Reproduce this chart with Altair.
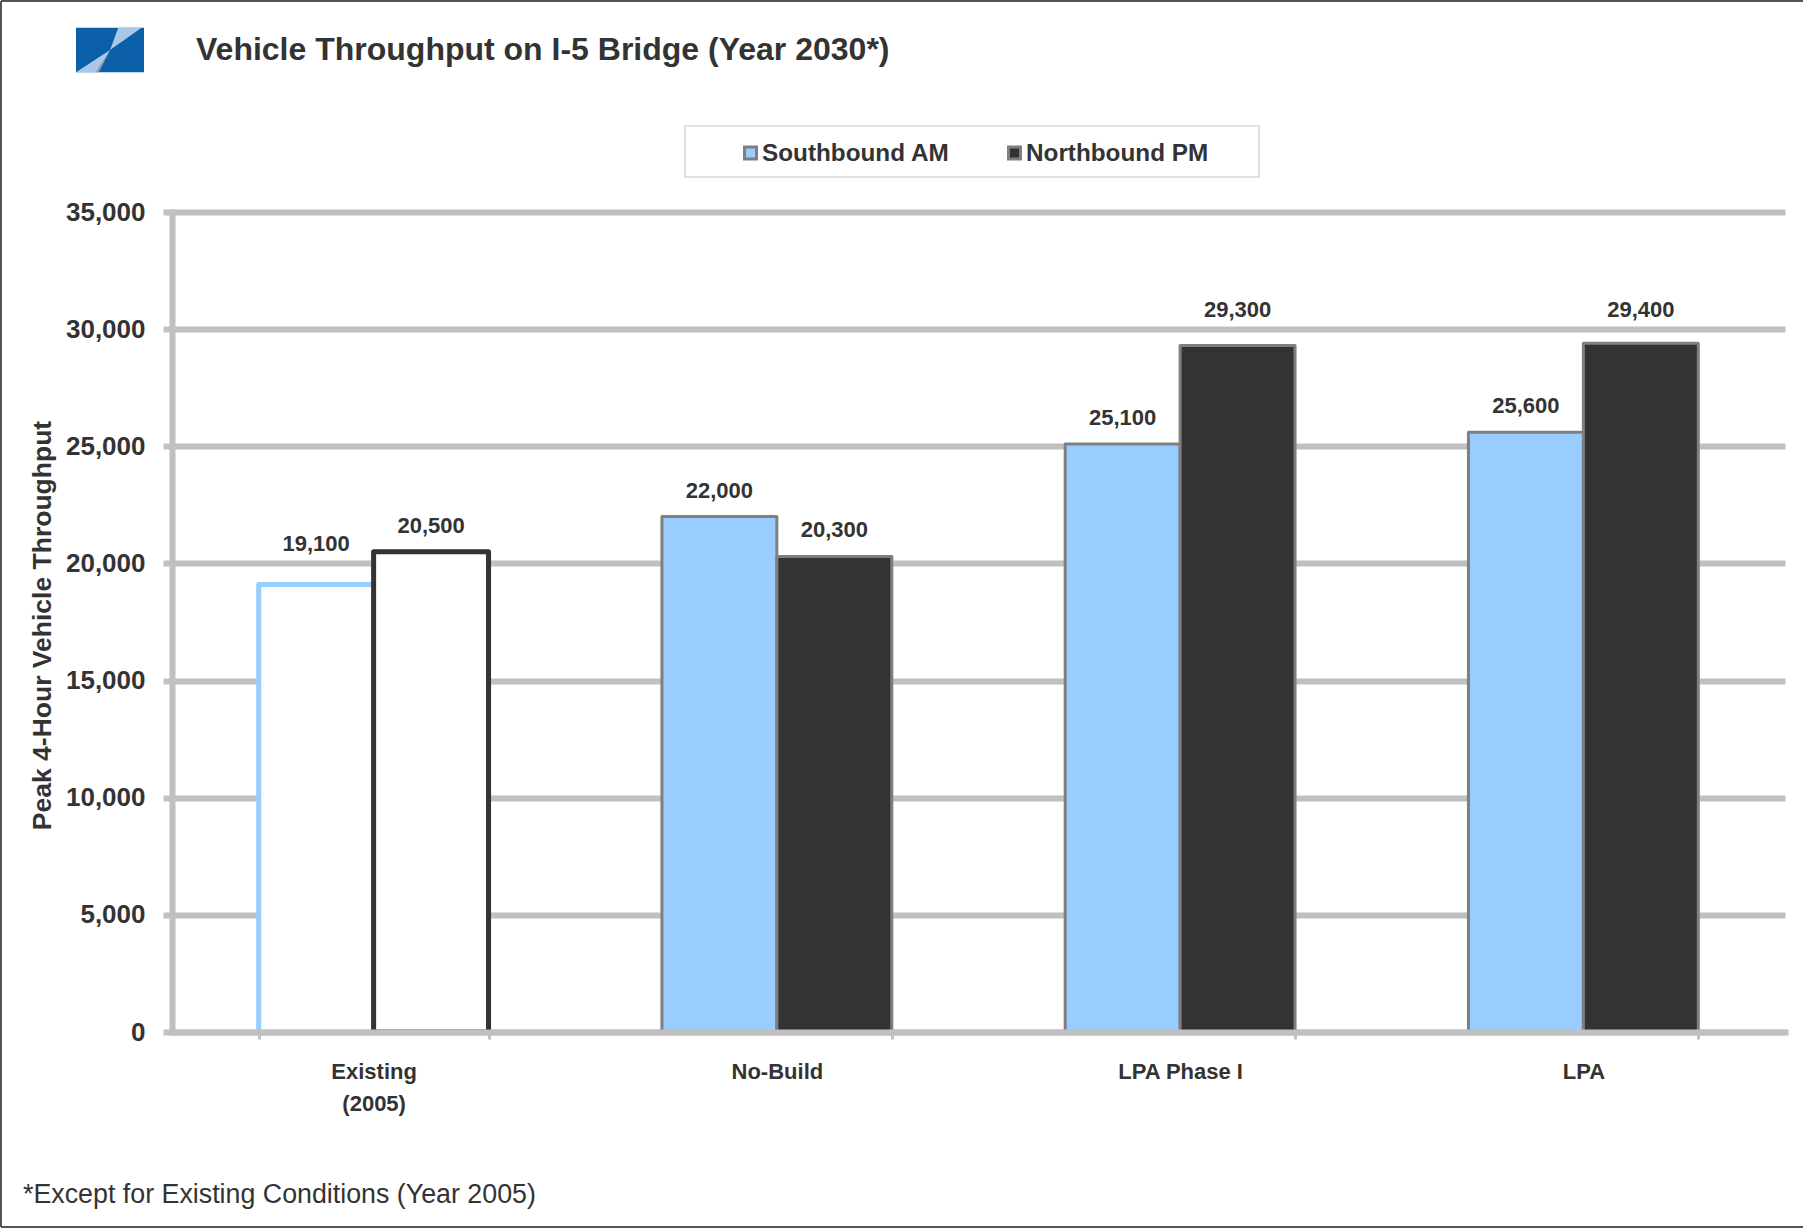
import altair as alt
import pandas as pd

# --- chart data -------------------------------------------------------------
scenarios = ["Existing (2005)", "No-Build", "LPA Phase I", "LPA"]
series_names = ["Southbound AM", "Northbound PM"]
southbound_am = [19100, 22000, 25100, 25600]
northbound_pm = [20500, 20300, 29300, 29400]
y_ticks = [0, 5000, 10000, 15000, 20000, 25000, 30000, 35000]

TITLE = "Vehicle Throughput on I-5 Bridge (Year 2030*)"
FOOTNOTE = "*Except for Existing Conditions (Year 2005)"
Y_TITLE = "Peak 4-Hour Vehicle Throughput"

# --- layout ------------------------------------------------------------------
W, H = 1613, 820            # plot area
PAD = {"left": 172, "top": 212, "right": 18, "bottom": 196}
Y_MAX = 35000
U = Y_MAX / H                # data units per pixel

FONT = "Liberation Sans, Arial, Helvetica, sans-serif"
INK = "#333333"
GRID = "#c0c0c0"
SB_BLUE = "#99ccff"
NB_DARK = "#333333"
EDGE = "#7f7f7f"
series_colors = [SB_BLUE, NB_DARK]

rows = []
for scen, sb, nb in zip(scenarios, southbound_am, northbound_pm):
    rows.append({"scenario": scen, "series": series_names[0], "value": sb})
    rows.append({"scenario": scen, "series": series_names[1], "value": nb})
df = pd.DataFrame(rows)
df["existing"] = df["scenario"] == scenarios[0]


def label_center(v):
    """Value-label centre above a bar, lifted clear of any gridline it would sit on."""
    c = v + 26 * U
    for g in y_ticks:
        if abs(c - g) < 14 * U:
            c = g + 19 * U
    return c


df["label_pos"] = df["value"].map(label_center)

x_axis = alt.Axis(
    title=None,
    labelExpr="split(replace(datum.label, ' (', '|('), '|')",
    labelFont=FONT, labelFontSize=22, labelFontWeight="bold", labelColor=INK,
    labelAngle=0, labelPadding=22, labelLineHeight=32, labelBaseline="top",
    domainColor=GRID, domainWidth=6, domainCap="square",
    tickColor=GRID, tickWidth=3, tickSize=7, tickBand="extent",
    zindex=1,
)
y_axis = alt.Axis(
    values=y_ticks, labelExpr="format(datum.value, ',')",
    title=Y_TITLE, titleFont=FONT, titleFontSize=26.5, titleFontWeight="bold",
    titleColor=INK, titleAngle=270, titleX=-122, titleY=413,
    titleAlign="center", titleBaseline="alphabetic",
    labelFont=FONT, labelFontSize=26, labelFontWeight="bold", labelColor=INK,
    labelPadding=18,
    domainColor=GRID, domainWidth=6, domainCap="square",
    gridColor=GRID, gridWidth=6,
    tickColor=GRID, tickWidth=6, tickSize=9,
    zindex=0,
)

x_enc = alt.X("scenario:N", sort=scenarios,
              scale=alt.Scale(paddingInner=0.43, paddingOuter=0.215), axis=x_axis)
xoff_enc = alt.XOffset("series:N", sort=series_names,
                       scale=alt.Scale(paddingInner=0, paddingOuter=0))
y_scale = alt.Scale(domain=[0, Y_MAX], nice=False)

series_scale = alt.Scale(domain=series_names, range=series_colors)

# Existing conditions are drawn as outlines, the forecasts as filled bars.
bars = alt.Chart(df).mark_bar(strokeJoin="round").encode(
    x=x_enc,
    xOffset=xoff_enc,
    y=alt.Y("value:Q", scale=y_scale, axis=y_axis),
    fill=alt.condition(
        "datum.existing",
        alt.value("white"),
        alt.Fill("series:N", sort=series_names, scale=series_scale, legend=None),
    ),
    stroke=alt.condition(
        "!datum.existing",
        alt.value(EDGE),
        alt.Stroke("series:N", sort=series_names, scale=series_scale, legend=None),
    ),
    strokeWidth=alt.condition("datum.existing", alt.value(5), alt.value(3)),
)

labels = alt.Chart(df).mark_text(
    font=FONT, fontSize=22, fontWeight="bold", color=INK, baseline="middle"
).encode(
    x=alt.X("scenario:N", sort=scenarios, axis=x_axis),
    xOffset=alt.XOffset("series:N", sort=series_names),
    y=alt.Y("label_pos:Q", scale=y_scale, axis=y_axis),
    text=alt.Text("value:Q", format=","),
)

one = alt.Data(values=[{}])

# page frame (top, left and bottom edges)
frame_color = "#555555"
frame = alt.layer(
    alt.Chart(one).mark_rule(color=frame_color, strokeWidth=2).encode(
        x=alt.value(-171), x2=alt.value(1640), y=alt.value(-211)),
    alt.Chart(one).mark_rule(color=frame_color, strokeWidth=2).encode(
        x=alt.value(-171), x2=alt.value(1640), y=alt.value(1015)),
    alt.Chart(one).mark_rule(color=frame_color, strokeWidth=2).encode(
        x=alt.value(-171), y=alt.value(-211), y2=alt.value(1015)),
)

# logo: blue tile crossed by a pinched light diagonal
LOGO_X, LOGO_Y, LOGO_SIZE = -62, -162, 68 * 68
logo_parts = [
    ("M-1,-0.656L1,-0.656L1,0.656L-1,0.656Z", "#0b5fa8"),
    ("M0.244,-0.656L0.93,-0.656L0,0Z", "#aac6e8"),
    ("M-1,0.656L-0.344,0.656L0,0Z", "#aac6e8"),
    ("M-0.42,0.656L-0.33,0.656L0,0Z", "#8c98a8"),
]
logo = alt.layer(*[
    alt.Chart(one).mark_point(shape=path, filled=True, fill=col, opacity=1,
                              strokeWidth=0, size=LOGO_SIZE).encode(
        x=alt.value(LOGO_X), y=alt.value(LOGO_Y))
    for path, col in logo_parts
])

title = alt.Chart(one).mark_text(
    text=TITLE, font=FONT, fontSize=32, fontWeight="bold", color=INK,
    align="left", baseline="alphabetic",
).encode(x=alt.value(24), y=alt.value(-152))

footnote = alt.Chart(one).mark_text(
    text=FOOTNOTE, font=FONT, fontSize=26.8, color=INK,
    align="left", baseline="alphabetic",
).encode(x=alt.value(-149), y=alt.value(991))

# legend: framed box with one swatch + label per series
LEG_Y = -59
legend_parts = [alt.Chart(one).mark_rect(fill="white", stroke="#d9d9d9", strokeWidth=1.5).encode(
    x=alt.value(513), x2=alt.value(1087), y=alt.value(-86), y2=alt.value(-35))]
for i, (name, col) in enumerate(zip(series_names, series_colors)):
    sx = 578.5 + i * 264
    legend_parts.append(
        alt.Chart(one).mark_point(shape="square", filled=True, fill=col, opacity=1,
                                  stroke=EDGE, strokeWidth=3, size=144).encode(
            x=alt.value(sx), y=alt.value(LEG_Y)))
    legend_parts.append(
        alt.Chart(one).mark_text(text=name, font=FONT, fontSize=24.3, fontWeight="bold",
                                 color=INK, align="left", baseline="middle").encode(
            x=alt.value(sx + 11.5), y=alt.value(LEG_Y + 1)))
legend = alt.layer(*legend_parts)

chart = alt.layer(
    frame, logo, title, footnote, legend, bars, labels
).properties(
    width=W, height=H,
    padding=PAD,
    autosize=alt.AutoSizeParams(type="none"),
    background="white",
).configure_view(stroke=None)

chart.save("out.html", embed_options={"renderer": "svg", "actions": False})
